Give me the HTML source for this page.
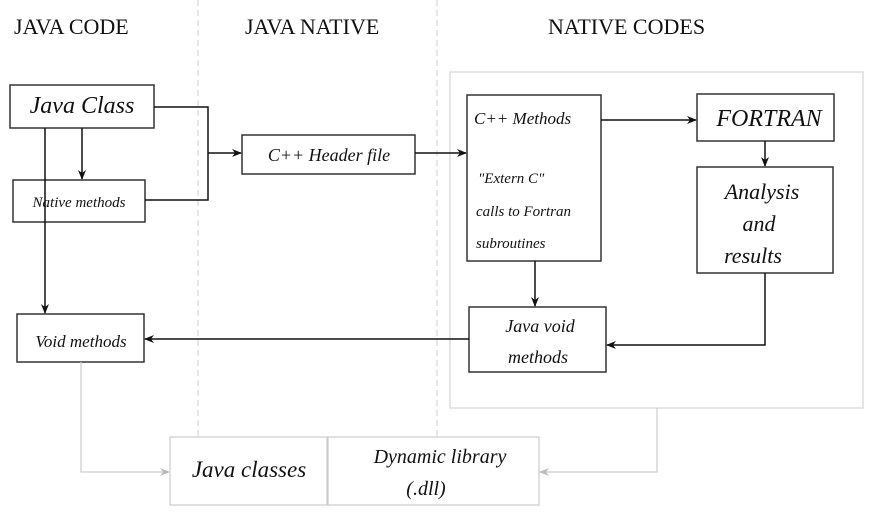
<!DOCTYPE html>
<html><head><meta charset="utf-8"><style>
body{margin:0;background:#fff}
svg text{font-family:"Liberation Serif",serif}
</style></head><body>
<svg width="871" height="513" viewBox="0 0 871 513" xmlns="http://www.w3.org/2000/svg">
<defs>
<marker id="a" markerWidth="10" markerHeight="8" refX="9" refY="4" orient="auto" markerUnits="userSpaceOnUse"><path d="M0,0 L10,4 L0,8 L3,4 Z" fill="#111"/></marker>
<marker id="g" markerWidth="10" markerHeight="8" refX="9" refY="4" orient="auto" markerUnits="userSpaceOnUse"><path d="M0,0 L10,4 L0,8 L3,4 Z" fill="#bbb"/></marker>
</defs>
<g font-size="22" fill="#111">
<text x="14" y="34">JAVA CODE</text>
<text x="245" y="34">JAVA NATIVE</text>
<text x="548" y="34">NATIVE CODES</text>
</g>
<g stroke="#ccc" stroke-dasharray="6,4" stroke-width="1">
<line x1="198" y1="0" x2="198" y2="437"/>
<line x1="437" y1="0" x2="437" y2="437"/>
</g>
<rect x="450" y="72" width="413" height="336" fill="none" stroke="#ddd" stroke-width="1.5"/>
<g fill="#fff" stroke="#333" stroke-width="1.5">
<rect x="10" y="85" width="144" height="43"/>
<rect x="13" y="180" width="132" height="42"/>
<rect x="17" y="314" width="127" height="48"/>
<rect x="242" y="135" width="173" height="39"/>
<rect x="467" y="95" width="134" height="166"/>
<rect x="697" y="94" width="137" height="47"/>
<rect x="697" y="167" width="136" height="106"/>
<rect x="469" y="307" width="137" height="65"/>
</g>
<g fill="none" stroke="#111" stroke-width="1.5">
<polyline points="154,107 208,107 208,200 145,200"/>
<line x1="208" y1="153" x2="241" y2="153" marker-end="url(#a)"/>
<line x1="82" y1="128" x2="82" y2="179" marker-end="url(#a)"/>
<line x1="45" y1="128" x2="45" y2="313" marker-end="url(#a)"/>
<line x1="415" y1="153" x2="466" y2="153" marker-end="url(#a)"/>
<line x1="601" y1="120" x2="696" y2="120" marker-end="url(#a)"/>
<line x1="765" y1="141" x2="765" y2="166" marker-end="url(#a)"/>
<polyline points="765,273 765,345 607,345" marker-end="url(#a)"/>
<line x1="535" y1="261" x2="535" y2="306" marker-end="url(#a)"/>
<line x1="469" y1="339" x2="145" y2="339" marker-end="url(#a)"/>
</g>
<g fill="none" stroke="#ccc" stroke-width="1.2">
<rect x="170" y="437" width="157" height="68"/>
<rect x="328" y="437" width="211" height="68"/>
<polyline points="81,362 81,472 169,472" marker-end="url(#g)"/>
<polyline points="657,408 657,472 540,472" marker-end="url(#g)"/>
</g>
<g font-style="italic" fill="#111">
<text x="82" y="113" font-size="24" text-anchor="middle">Java Class</text>
<text x="79" y="207" font-size="15" text-anchor="middle">Native methods</text>
<text x="81" y="347" font-size="17" text-anchor="middle">Void methods</text>
<text x="329" y="161" font-size="18" text-anchor="middle">C++ Header file</text>
<text x="474" y="124" font-size="17">C++ Methods</text>
<text x="478" y="183" font-size="15">"Extern C"</text>
<text x="476" y="216" font-size="15">calls to Fortran</text>
<text x="476" y="248" font-size="15">subroutines</text>
<text x="769" y="126" font-size="24" text-anchor="middle">FORTRAN</text>
<text x="762" y="199" font-size="22" text-anchor="middle">Analysis</text>
<text x="759" y="231" font-size="22" text-anchor="middle">and</text>
<text x="753" y="263" font-size="22" text-anchor="middle">results</text>
<text x="540" y="332" font-size="18" text-anchor="middle">Java void</text>
<text x="538" y="363" font-size="18" text-anchor="middle">methods</text>
<text x="249" y="477" font-size="23" text-anchor="middle">Java classes</text>
<text x="440" y="463" font-size="20" text-anchor="middle">Dynamic library</text>
<text x="426" y="495" font-size="20" text-anchor="middle">(.dll)</text>
</g>
</svg>
</body></html>
